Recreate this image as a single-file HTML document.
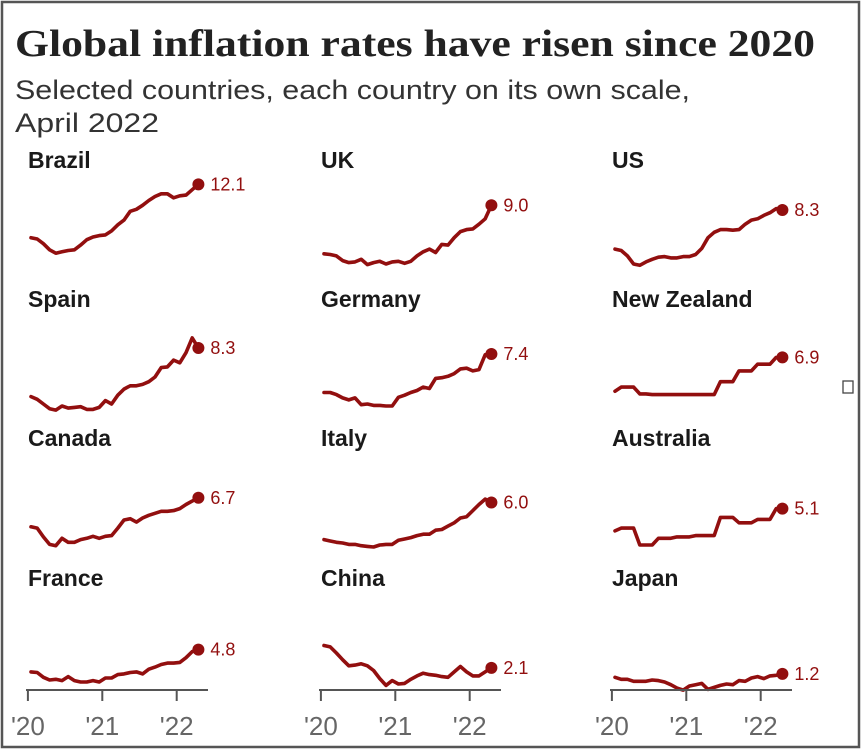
<!DOCTYPE html>
<html><head><meta charset="utf-8"><style>
html,body{margin:0;padding:0;background:#fff;}
svg{display:block;}
</style></head><body>
<svg id="chart" width="865" height="755" viewBox="0 0 865 755" xmlns="http://www.w3.org/2000/svg">
<rect x="2" y="2" width="857" height="745" fill="#fff" stroke="#555" stroke-width="2.5"/>
<rect x="843" y="381" width="10" height="12" fill="#fff" stroke="#444" stroke-width="1.3"/>
<text x="15" y="56" font-family="Liberation Serif, serif" font-weight="bold" font-size="38" fill="#222" textLength="800" lengthAdjust="spacingAndGlyphs">Global inflation rates have risen since 2020</text>
<text x="15" y="99" font-family="Liberation Sans, sans-serif" font-size="27" fill="#333" textLength="675" lengthAdjust="spacingAndGlyphs">Selected countries, each country on its own scale,</text>
<text x="15" y="132" font-family="Liberation Sans, sans-serif" font-size="27" fill="#333" textLength="144" lengthAdjust="spacingAndGlyphs">April 2022</text>
<g id="panels"></g>
</svg>
<script>
const countries = ["Brazil","UK","US","Spain","Germany","New Zealand","Canada","Italy","Australia","France","China","Japan"];
const labels = ["12.1","9.0","8.3","8.3","7.4","6.9","6.7","6.0","5.1","4.8","2.1","1.2"];
const tickLabels = ["'20","'21","'22"];
const tickMonths = [-0.5, 11.5, 23.5];
const brazil = [4.2,4.0,3.3,2.4,1.9,2.1,2.3,2.4,3.1,3.9,4.3,4.5,4.6,5.2,6.1,6.8,8.1,8.4,9.0,9.7,10.3,10.7,10.7,10.1,10.4,10.5,11.3,12.1];
const uk = [1.8,1.7,1.5,0.8,0.5,0.6,1.0,0.2,0.5,0.7,0.3,0.6,0.7,0.4,0.7,1.5,2.1,2.5,2.0,3.2,3.1,4.2,5.1,5.4,5.5,6.2,7.0,9.0];
const us = [2.5,2.3,1.5,0.3,0.1,0.6,1.0,1.3,1.4,1.2,1.2,1.4,1.4,1.7,2.6,4.2,5.0,5.4,5.4,5.3,5.4,6.2,6.8,7.0,7.5,7.9,8.5,8.3];
const spain = [1.1,0.7,0.0,-0.7,-0.9,-0.3,-0.6,-0.5,-0.4,-0.8,-0.8,-0.5,0.5,0.0,1.3,2.2,2.7,2.7,2.9,3.3,4.0,5.4,5.5,6.5,6.1,7.6,9.8,8.3];
const germany = [1.7,1.7,1.4,0.9,0.6,0.9,-0.1,0.0,-0.2,-0.2,-0.3,-0.3,1.0,1.3,1.7,2.0,2.5,2.3,3.8,3.9,4.1,4.5,5.2,5.3,4.9,5.1,7.3,7.4];
const newZealand = [1.9,2.5,2.5,2.5,1.5,1.5,1.4,1.4,1.4,1.4,1.4,1.4,1.4,1.4,1.4,1.4,1.4,3.3,3.3,3.3,4.9,4.9,4.9,5.9,5.9,5.9,6.9,6.9];
const canada = [2.4,2.2,0.9,-0.2,-0.4,0.7,0.1,0.1,0.5,0.7,1.0,0.7,1.0,1.1,2.2,3.4,3.6,3.1,3.7,4.1,4.4,4.7,4.7,4.8,5.1,5.7,6.2,6.7];
const italy = [0.5,0.3,0.1,0.0,-0.2,-0.2,-0.4,-0.5,-0.6,-0.3,-0.2,-0.2,0.4,0.6,0.8,1.1,1.3,1.3,1.9,2.0,2.5,3.0,3.7,3.9,4.8,5.7,6.5,6.0];
const australia = [1.8,2.2,2.2,2.2,-0.3,-0.3,-0.3,0.7,0.7,0.7,0.9,0.9,0.9,1.1,1.1,1.1,1.1,3.8,3.8,3.8,3.0,3.0,3.0,3.5,3.5,3.5,5.1,5.1];
const france = [1.5,1.4,0.7,0.3,0.4,0.2,0.8,0.2,0.0,0.0,0.2,0.0,0.6,0.6,1.1,1.2,1.4,1.5,1.2,1.9,2.2,2.6,2.8,2.8,2.9,3.6,4.5,4.8];
const china = [5.4,5.2,4.3,3.3,2.4,2.5,2.7,2.4,1.7,0.5,-0.5,0.2,-0.3,-0.2,0.4,0.9,1.3,1.1,1.0,0.8,0.7,1.5,2.3,1.5,0.9,0.9,1.5,2.1];
const japan = [0.7,0.4,0.4,0.1,0.1,0.1,0.3,0.2,0.0,-0.4,-0.9,-1.2,-0.6,-0.4,-0.2,-1.1,-0.8,-0.5,-0.3,-0.4,0.2,0.1,0.6,0.8,0.5,0.9,1.0,1.2];
const series = [brazil,uk,us,spain,germany,newZealand,canada,italy,australia,france,china,japan];

const NS = "http://www.w3.org/2000/svg";
const g = document.getElementById("panels");
const colOff = [0, 293, 584];
const rowZero = [266, 404, 543, 682];
const rowTitle = [168, 307, 446, 586];
const K = 6.75;
function xScale(m, c){ return 31 + colOff[c] + 6.2*m; }
function yScale(v, r){ return rowZero[r] - v*K; }
function mk(tag, attrs){ const e=document.createElementNS(NS,tag); for(const k in attrs) e.setAttribute(k, attrs[k]); return e; }

countries.forEach((name,i)=>{
  const r = Math.floor(i/3), c = i%3;
  const grp = mk("g",{});
  
  
  const t = mk("text",{x:28+colOff[c], y:rowTitle[r], "font-family":"Liberation Sans, sans-serif","font-weight":"bold","font-size":"23",fill:"#1a1a1a"});
  t.textContent = name;
  
  
  grp.appendChild(t);
  const vals = series[i];
  const d = vals.map((v,m)=>(m?"L":"M")+xScale(m,c).toFixed(1)+","+yScale(v,r).toFixed(1)).join(" ");
  const p = mk("path",{d:d,fill:"none",stroke:"#920f0f","stroke-width":"3.6","stroke-linejoin":"round","stroke-linecap":"round"});
  
  
  grp.appendChild(p);
  const last = vals.length-1;
  const dx = xScale(last,c), dy = yScale(vals[last],r);
  const dot = mk("circle",{cx:dx,cy:dy,r:6,fill:"#920f0f"});
  
  
  grp.appendChild(dot);
  const lab = mk("text",{x:dx+12,y:dy+6,"font-family":"Liberation Sans, sans-serif","font-size":"18",fill:"#920f0f"});
  lab.textContent = labels[i];
  
  
  grp.appendChild(lab);
  if (r===3){
    const ax = mk("line",{x1:26+colOff[c],x2:208+colOff[c],y1:690,y2:690,stroke:"#555","stroke-width":"2"});
    
    
    grp.appendChild(ax);
    tickMonths.forEach((tm,j)=>{
      const tx = xScale(tm,c);
      const tk = mk("line",{x1:tx,x2:tx,y1:690,y2:701,stroke:"#555","stroke-width":"2"});
      
      
      grp.appendChild(tk);
      const tl = mk("text",{x:tx,y:735,"text-anchor":"middle","font-family":"Liberation Sans, sans-serif","font-size":"26",fill:"#666"});
      tl.textContent = tickLabels[j];
      
      
      grp.appendChild(tl);
    });
  }
  g.appendChild(grp);
});
</script>
</body></html>
